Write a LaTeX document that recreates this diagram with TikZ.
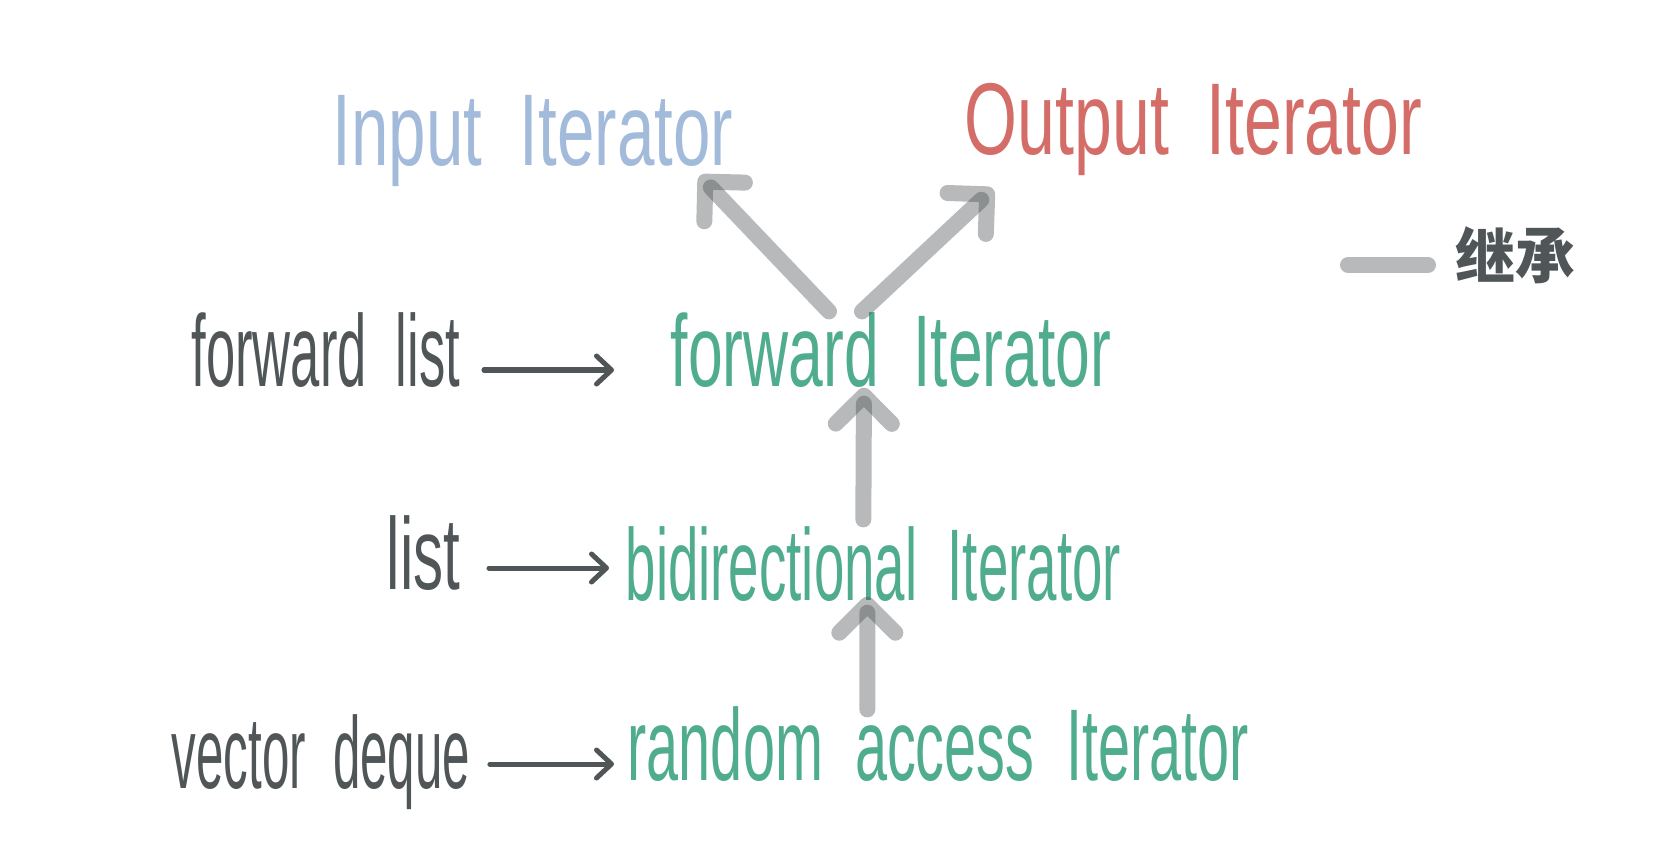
\documentclass[tikz,border=0pt]{standalone}
\usepackage{fontspec}
\setmainfont{Liberation Sans}
\newfontfamily\cjkfont{Noto Sans CJK SC}
\usepackage{xcolor}
\usetikzlibrary{calc,arrows.meta}

\definecolor{inputblue}{RGB}{163,187,219}
\definecolor{outputred}{RGB}{212,108,104}
\definecolor{iterGreen}{RGB}{80,172,142}
\definecolor{inkGray}{RGB}{80,86,88}
\definecolor{linkGray}{RGB}{75,80,82}

\newcommand{\narrowtext}[2]{\scalebox{#1}[1]{#2}}

\begin{document}
\begin{tikzpicture}[x=0.01cm, y=-0.01cm,
    hand/.style={font=\fontsize{29}{34}\selectfont, inner sep=0pt, anchor=base west},
    inherit/.style={-{Straight Barb[round, length=0.28cm, width=0.56cm]}, line width=0.16cm,
                    line cap=round, draw=linkGray, draw opacity=0.4},
    points/.style={-{Straight Barb[round, length=0.15cm, width=0.28cm]}, line width=0.05cm,
                   line cap=round, draw=inkGray}]
    \useasboundingbox (0,0) rectangle (1680,846);

    % iterator categories
    \node[hand, text=inputblue] (input) at (332,166) {\narrowtext{0.66}{Input\ \ Iterator}};
    \node[hand, text=outputred] (output) at (964,155) {\narrowtext{0.667}{Output\ \ Iterator}};
    \node[hand, text=iterGreen] (fwd) at (670,386) {\narrowtext{0.612}{forward\ \ Iterator}};
    \node[hand, text=iterGreen] (bidir) at (625,600) {\narrowtext{0.536}{bidirectional\ \ Iterator}};
    \node[hand, text=iterGreen] (rand) at (627,780) {\narrowtext{0.565}{random\ \ access\ \ Iterator}};

    % containers
    \node[hand, text=inkGray] (flist) at (191,386) {\narrowtext{0.515}{forward\ \ list}};
    \node[hand, text=inkGray] (list) at (386,589) {\narrowtext{0.59}{list}};
    \node[hand, text=inkGray] (vd) at (171,788) {\narrowtext{0.483}{vector\ \ deque}};

    % legend
    \coordinate (legA) at (1348,265);
    \coordinate (legB) at (1428,265);
    \node[inner sep=0pt, text=inkGray, font=\cjkfont\bfseries\fontsize{17}{20}\selectfont] (legtext) at (1515,255) {继承};

    \draw[inherit] ($(fwd.north)+(-62,0)$) -- ($(input.south east)+(-34,-12)$);
    \draw[inherit] ($(fwd.north)+(-29,0)$) -- ($(output.south west)+(29,12)$);
    \draw[inherit] ($(bidir.north)+(-10,-6)$) -- ($(fwd.south)+(-27,0)$);
    \draw[inherit] ($(rand.north)+(-71,4)$) -- ($(bidir.south)+(-6,-5)$);
    \draw[inherit, -] (legA) -- (legB);

    \draw[points] ($(flist.base east)+(23,-16)$) -- ($(fwd.base west)+(-56,-16)$);
    \draw[points] ($(list.base east)+(28,-21)$) -- ($(bidir.base west)+(-16,-32)$);
    \draw[points] ($(vd.base east)+(19,-24)$) -- ($(rand.base west)+(-13,-16)$);
\end{tikzpicture}
\end{document}
